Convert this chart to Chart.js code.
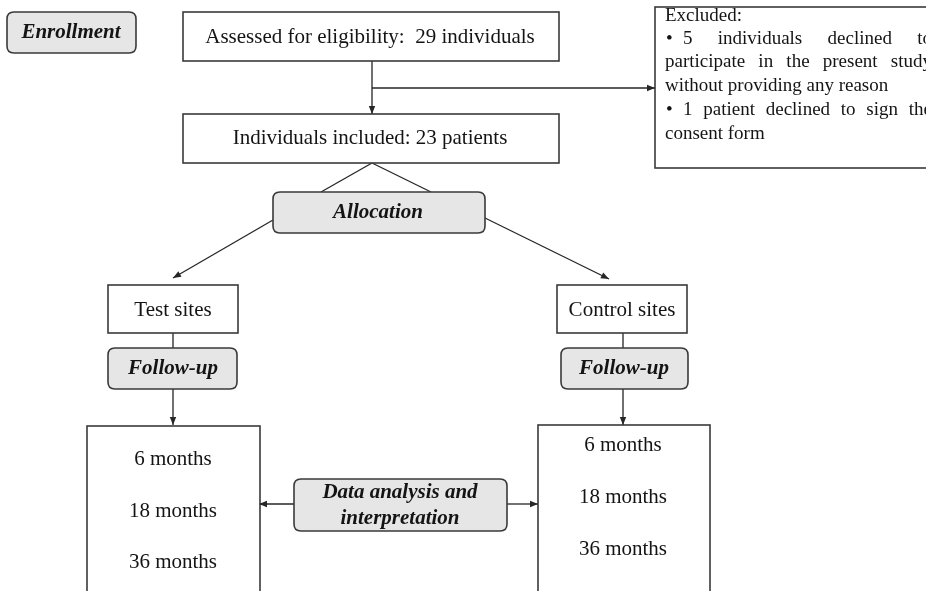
<!DOCTYPE html>
<html>
<head>
<meta charset="utf-8">
<script src="https://cdn.jsdelivr.net/npm/chart.js@4.4.0/dist/chart.umd.min.js"></script>
<style>
  body { margin: 0; background: #fff; }
  canvas { display: block; }
</style>
</head>
<body>
<canvas id="flow" width="926" height="591"></canvas>
<script>
// diagram units: x 0..926 left to right, y 0..591 top to bottom
const boxLeft   = [7,   183, 183, 655, 273, 108, 557, 108, 561, 87,  538, 294];
const boxRight  = [136, 559, 559, 960, 485, 238, 687, 237, 688, 260, 710, 507];
const boxTop    = [12,  12,  114, 7,   192, 285, 285, 348, 348, 426, 425, 479];
const boxBottom = [53,  61,  163, 168, 233, 333, 333, 389, 389, 620, 620, 531];
const boxRounded = [true, false, false, false, true, false, false, true, true, false, false, true];

const labels = [
  'Enrollment', 'Assessed for eligibility:  29 individuals', 'Individuals included: 23 patients',
  'Allocation', 'Test sites', 'Control sites', 'Follow-up', 'Follow-up',
  '6 months', '18 months', '36 months', '6 months', '18 months', '36 months',
  'Data analysis and', 'interpretation'
];
const labelX = [71, 370, 370, 378, 173, 622, 173, 624, 173, 173, 173, 623, 623, 623, 400, 400];
const labelY = [33, 37, 138, 213, 310, 310, 369, 369, 459, 511, 562, 445, 497, 549, 493, 519];
const labelBold = [true, false, false, true, false, false, true, true,
  false, false, false, false, false, false, true, true];

// excluded box text
const excludedLines = [
  'Excluded:',
  '5 individuals declined to',
  'participate in the present study',
  'without providing any reason',
  '1 patient declined to sign the',
  'consent form'
];
const excludedY = [16, 39, 62, 86, 110, 134];
const excludedStart = [665, 683, 665, 665, 683, 665];
const excludedBullet = [false, true, false, false, true, false];
const excludedJustify = [false, true, true, false, true, false];

// connectors: from (x, y) to (x, y)
const linkFromX = [372, 372, 372, 372, 273, 485, 173, 623, 173, 623, 294, 507];
const linkFromY = [61,  88,  163, 163, 220, 218, 333, 333, 389, 389, 504, 504];
const linkToX   = [372, 655, 321, 431, 173, 609, 173, 623, 173, 623, 259, 538];
const linkToY   = [114, 88,  192, 192, 278, 279, 348, 348, 425, 425, 504, 504];
const linkArrow = [true, true, false, false, true, true, false, false, true, true, true, true];

const serif = "'Liberation Serif', 'Times New Roman', serif";
const ink = '#262626';

const datasets = linkFromX.map((x, i) => ({
  data: [{ x: x, y: linkFromY[i] }, { x: linkToX[i], y: linkToY[i] }],
  showLine: true,
  borderColor: ink,
  borderWidth: 1.3,
  pointRadius: 0
}));

function roundRect(ctx, x, y, w, h, r) {
  ctx.beginPath();
  ctx.moveTo(x + r, y);
  ctx.lineTo(x + w - r, y);
  ctx.quadraticCurveTo(x + w, y, x + w, y + r);
  ctx.lineTo(x + w, y + h - r);
  ctx.quadraticCurveTo(x + w, y + h, x + w - r, y + h);
  ctx.lineTo(x + r, y + h);
  ctx.quadraticCurveTo(x, y + h, x, y + h - r);
  ctx.lineTo(x, y + r);
  ctx.quadraticCurveTo(x, y, x + r, y);
  ctx.closePath();
}

const flowPlugin = {
  id: 'flow',
  afterDatasetsDraw(chart) {
    const ctx = chart.ctx;
    const xs = chart.scales.x, ys = chart.scales.y;
    ctx.save();

    // boxes
    boxLeft.forEach((l, i) => {
      const x0 = xs.getPixelForValue(l), x1 = xs.getPixelForValue(boxRight[i]);
      const y0 = ys.getPixelForValue(boxTop[i]), y1 = ys.getPixelForValue(boxBottom[i]);
      ctx.lineWidth = 1.6;
      ctx.strokeStyle = '#3a3a3a';
      if (boxRounded[i]) {
        roundRect(ctx, x0, y0, x1 - x0, y1 - y0, 7);
        ctx.fillStyle = '#e6e6e6';
        ctx.fill();
        ctx.stroke();
      } else {
        ctx.fillStyle = '#fff';
        ctx.fillRect(x0, y0, x1 - x0, y1 - y0);
        ctx.strokeRect(x0, y0, x1 - x0, y1 - y0);
      }
    });

    // arrow heads
    ctx.fillStyle = ink;
    linkFromX.forEach((fx, i) => {
      if (!linkArrow[i]) return;
      const ax = xs.getPixelForValue(fx), ay = ys.getPixelForValue(linkFromY[i]);
      const bx = xs.getPixelForValue(linkToX[i]), by = ys.getPixelForValue(linkToY[i]);
      const a = Math.atan2(by - ay, bx - ax);
      const len = 8, half = 3.2;
      ctx.beginPath();
      ctx.moveTo(bx, by);
      ctx.lineTo(bx - len * Math.cos(a) + half * Math.sin(a), by - len * Math.sin(a) - half * Math.cos(a));
      ctx.lineTo(bx - len * Math.cos(a) - half * Math.sin(a), by - len * Math.sin(a) + half * Math.cos(a));
      ctx.closePath();
      ctx.fill();
    });

    // labels
    ctx.fillStyle = '#141414';
    ctx.textAlign = 'center';
    ctx.textBaseline = 'middle';
    labels.forEach((t, i) => {
      ctx.font = labelBold[i] ? 'italic bold 21px ' + serif : '21px ' + serif;
      ctx.fillText(t, xs.getPixelForValue(labelX[i]), ys.getPixelForValue(labelY[i]));
    });

    // excluded text, justified like the original
    ctx.textAlign = 'left';
    ctx.font = '19px ' + serif;
    const right = xs.getPixelForValue(932);
    excludedLines.forEach((t, i) => {
      const y = ys.getPixelForValue(excludedY[i]);
      let x = xs.getPixelForValue(excludedStart[i]);
      if (excludedBullet[i]) ctx.fillText('\u2022', xs.getPixelForValue(666), y);
      if (!excludedJustify[i]) { ctx.fillText(t, x, y); return; }
      const words = t.split(' ');
      const widths = words.map(w => ctx.measureText(w).width);
      const gap = (right - x - widths.reduce((s, w) => s + w, 0)) / (words.length - 1);
      words.forEach((w, k) => { ctx.fillText(w, x, y); x += widths[k] + gap; });
    });

    ctx.restore();
  }
};

new Chart(document.getElementById('flow'), {
  type: 'scatter',
  data: { datasets: datasets },
  options: {
    responsive: false,
    animation: false,
    layout: { padding: 0 },
    plugins: { legend: { display: false }, tooltip: { enabled: false } },
    scales: {
      x: { type: 'linear', min: 0, max: 926, display: false },
      y: { type: 'linear', min: 0, max: 591, reverse: true, display: false }
    }
  },
  plugins: [flowPlugin]
});
</script>
</body>
</html>
